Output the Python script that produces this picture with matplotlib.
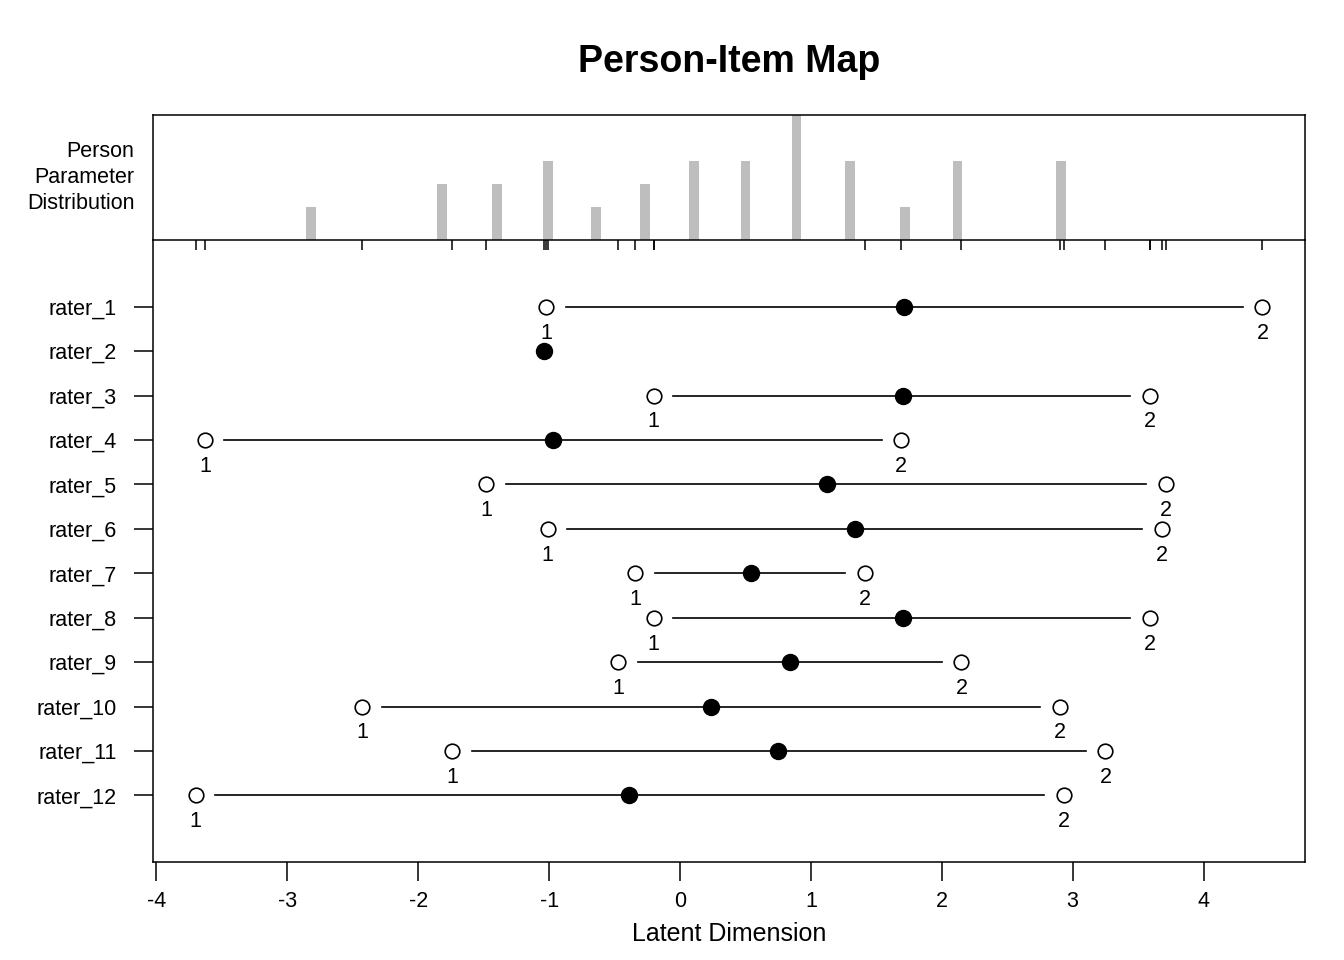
import numpy as np
import matplotlib
matplotlib.use("Agg")
import matplotlib.pyplot as plt

plt.rcParams['font.family'] = ['Liberation Sans', 'DejaVu Sans']

# item (rater) parameters
raters = ["rater_1", "rater_2", "rater_3", "rater_4", "rater_5", "rater_6",
          "rater_7", "rater_8", "rater_9", "rater_10", "rater_11", "rater_12"]
thresh_1 = [-1.02, -1.04, -0.20, -3.63, -1.48, -1.01, -0.34, -0.20, -0.47, -2.43, -1.74, -3.70]
thresh_2 = [4.45, np.nan, 3.59, 1.69, 3.71, 3.68, 1.41, 3.59, 2.15, 2.90, 3.25, 2.93]
location = [1.71, -1.04, 1.70, -0.97, 1.12, 1.34, 0.54, 1.70, 0.84, 0.24, 0.75, -0.39]

# person parameter distribution
person_theta = [-2.82, -1.82, -1.40, -1.01, -0.64, -0.27, 0.11, 0.50, 0.89, 1.30, 1.72, 2.12, 2.91]
person_count = [1, 2, 2, 3, 1, 2, 3, 3, 5, 3, 1, 3, 3]

xticks = [-4, -3, -2, -1, 0, 1, 2, 3, 4]

W, H = 1344, 960
fig = plt.figure(figsize=(W / 100, H / 100), dpi=100)
left, right = 153 / W, 1305 / W
ax_top = fig.add_axes([left, 1 - 240 / H, right - left, 125 / H])
ax = fig.add_axes([left, 1 - 862 / H, right - left, 622 / H], sharex=ax_top)

xlim = (-4.026, 4.775)
lw = 1.1
fs = 15.5

# top panel: histogram of persons
base = -0.43
ax_top.bar(person_theta, np.array(person_count) - base, bottom=base, width=0.075,
           color='#BEBEBE', linewidth=0)
ax_top.set_ylim(base, 5)
ax_top.set_xlim(*xlim)
ax_top.set_yticks([])
ax_top.tick_params(axis='x', bottom=False, labelbottom=False)
for s in ['left', 'top', 'right']:
    ax_top.spines[s].set_linewidth(lw)
ax_top.spines['bottom'].set_visible(False)
ax_top.text(-0.016, 0.5, "Person\nParameter\nDistribution", transform=ax_top.transAxes,
            ha='right', va='center', fontsize=fs, linespacing=1.32)

# lower panel: item thresholds
n = len(raters)
ypos = np.arange(n, 0, -1)
gap = 0.15
for y, t1, t2, loc in zip(ypos, thresh_1, thresh_2, location):
    if not np.isnan(t2):
        ax.plot([t1 + gap, t2 - gap], [y, y], color='black', lw=1.2, zorder=1)
        ax.plot([t1, t2], [y, y], 'o', ms=10.5, mfc='white', mec='black', mew=1.2, zorder=2)
        ax.annotate("1", (t1, y), xytext=(0, -19), textcoords='offset points',
                    ha='center', va='center', fontsize=fs)
        ax.annotate("2", (t2, y), xytext=(0, -19), textcoords='offset points',
                    ha='center', va='center', fontsize=fs)
    ax.plot(loc, y, 'o', ms=11.5, color='black', zorder=3)

ax.set_ylim(-0.5, 13.5)
ax.set_xlim(*xlim)
ax.set_yticks(ypos)
ax.set_yticklabels(raters)
ax.set_xticks(xticks)
ax.set_xticklabels([str(v) for v in xticks])
ax.tick_params(axis='both', direction='out', length=14, width=lw, labelsize=fs)
ax.tick_params(axis='y', pad=12)
ax.tick_params(axis='x', pad=7)
for s in ax.spines.values():
    s.set_linewidth(lw)
ax.set_xlabel("Latent Dimension", fontsize=18, labelpad=7)

# threshold rug along the panel divider
all_thr = [t for t in list(thresh_1) + list(thresh_2) if not np.isnan(t)]
ax.plot(all_thr, [13.5] * len(all_thr), marker=3, ls='none', ms=7, mew=lw,
        color='black', clip_on=False, zorder=4)

fig.text((153 + 1305) / 2 / W, 1 - 62 / H, "Person-Item Map", ha='center', va='center',
         fontsize=27, fontweight='bold')

fig.savefig("out.png", dpi=100)
